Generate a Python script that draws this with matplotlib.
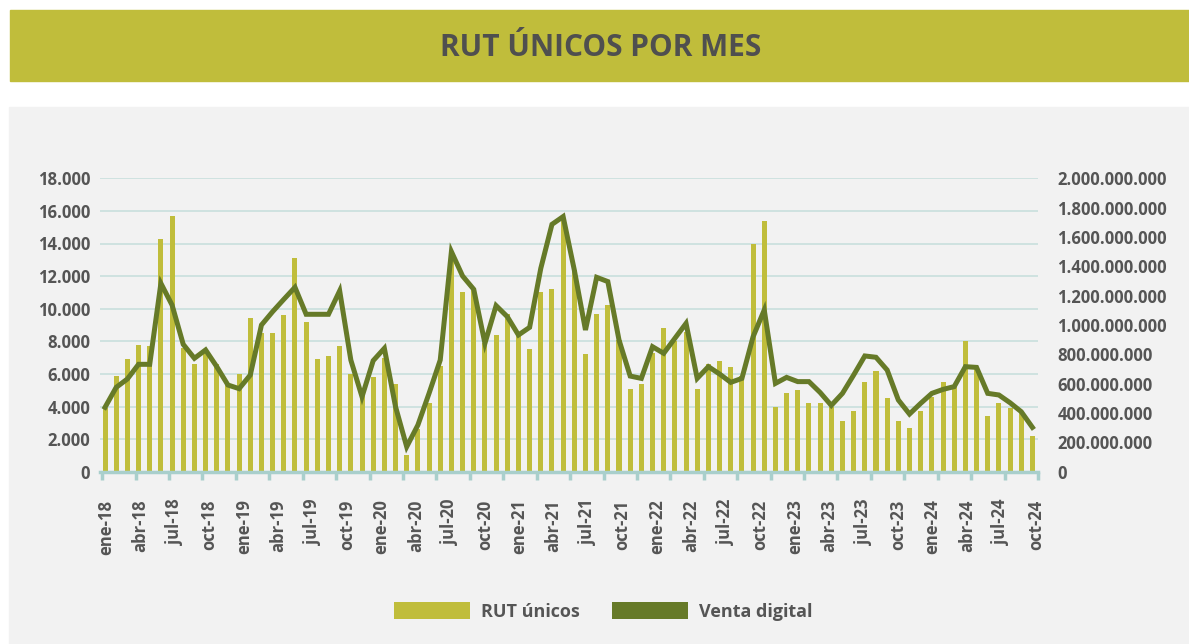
import numpy as np
import matplotlib.pyplot as plt
from matplotlib.patches import Rectangle, Patch

plt.rcParams["font.family"] = ["Open Sans", "DejaVu Sans"]
plt.rcParams["font.weight"] = "bold"

# monthly data, ene-18 onwards
rut_unicos = [
    3900, 5900, 6900, 7800, 7700, 14300, 15700, 7600, 6600, 7300, 6600, 5300,
    6000, 9400, 8500, 8500, 9600, 13100, 9200, 6900, 7100, 7700, 6000, 4700,
    5800, 7000, 5400, 1000, 2600, 4200, 6500, 12900, 11000, 11300, 7900, 8400,
    9700, 8300, 7500, 11000, 11200, 15400, 12400, 7200, 9700, 10200, 8100, 5100,
    5400, 7300, 8800, 8000, 8600, 5100, 6600, 6800, 6400, 5900, 14000, 15400,
    4000, 4800, 5000, 4200, 4200, 4000, 3100, 3700, 5500, 6200, 4500, 3100,
    2700, 3700, 4600, 5500, 5300, 8000, 6300, 3400, 4200, 3900, 3600, 2200,
]
# millions of pesos
venta_digital = [
    439, 575, 632, 732, 732, 1284, 1136, 868, 773, 830, 716, 591,
    566, 659, 1000, 1091, 1175, 1257, 1073, 1073, 1073, 1233, 761, 511,
    757, 841, 443, 170, 318, 534, 761, 1500, 1334, 1243, 875, 1132,
    1057, 932, 984, 1386, 1686, 1739, 1375, 966, 1325, 1296, 898, 652,
    636, 852, 807, 909, 1011, 636, 716, 666, 609, 636, 920, 1102,
    602, 643, 614, 614, 540, 452, 534, 659, 789, 780, 693, 489,
    393, 466, 534, 561, 580, 716, 711, 534, 523, 470, 409, 302,
]
tick_labels = [f"{m}-{y}" for y in range(18, 25) for m in ["ene", "abr", "jul", "oct"]]

BAR = "#C0BD3B"
LINE = "#667A28"
TEXT = "#555555"
GRID = "#C8DFDD"
AXIS = "#A9CFCC"
W, H = 1189, 644


def box(x0, y0, x1, y1):
    return [x0 / W, 1 - y1 / H, (x1 - x0) / W, (y1 - y0) / H]


def miles(v):
    return f"{int(v):,}".replace(",", ".")


fig = plt.figure(figsize=(W / 100, H / 100), dpi=100)
fig.patches.append(Rectangle((10 / W, 1 - 80.7 / H), 1 - 10 / W, 70.7 / H,
                             transform=fig.transFigure, color=BAR, zorder=-2))
fig.patches.append(Rectangle((9 / W, 0), 1 - 9 / W, 1 - 106.7 / H,
                             transform=fig.transFigure, color="#F2F2F2", zorder=-2))
fig.text(601 / W, 1 - 48.5 / H, "RUT ÚNICOS POR MES", ha="center", va="center",
         fontsize=21.5, color="#4F4F4F")

ax = fig.add_axes(box(100, 178.3, 1038, 471.7))
ax.set_facecolor("none")
x = np.arange(len(rut_unicos))
ax.bar(x, rut_unicos, width=0.45, color=BAR, zorder=2)
ax.set_xlim(-0.45, len(x) - 0.55)
ax.set_ylim(0, 18000)
yt = list(range(0, 18001, 2000))
ax.set_yticks(yt)
ax.set_yticklabels([miles(v) for v in yt])
ax.grid(axis="y", color=GRID, lw=1.2)
ax.set_axisbelow(True)
for s in ["top", "left", "right"]:
    ax.spines[s].set_visible(False)
ax.spines["bottom"].set_color(AXIS)
ax.spines["bottom"].set_linewidth(2.5)
ax.tick_params(axis="y", length=0, pad=7, labelsize=12, labelcolor=TEXT)
ax.set_xticks(np.linspace(0.1, len(x) - 0.7, len(tick_labels)))
ax.set_xticklabels(tick_labels, rotation=90)
ax.set_xticks(np.linspace(-0.25, len(x) - 0.5, len(tick_labels) + 1), minor=True)
ax.tick_params(axis="x", which="major", length=0, pad=20, labelsize=12, labelcolor=TEXT)
ax.tick_params(axis="x", which="minor", length=6, width=2.5, color=AXIS)

ax2 = ax.twinx()
ax2.plot(x, venta_digital, color=LINE, lw=3.6, solid_joinstyle="miter", zorder=3)
ax2.set_ylim(0, 2000)
rt = list(range(0, 2001, 200))
ax2.set_yticks(rt)
ax2.set_yticklabels([miles(v * 1_000_000) for v in rt])
for s in ax2.spines.values():
    s.set_visible(False)
ax2.tick_params(axis="y", length=0, pad=14, labelsize=12, labelcolor=TEXT)

fig.legend(handles=[Patch(facecolor=BAR, lw=0), Patch(facecolor=LINE, lw=0)],
           labels=["RUT únicos", "Venta digital"], loc="center",
           bbox_to_anchor=(603 / W, 1 - 611.5 / H), ncol=2, frameon=False,
           fontsize=13, handlelength=4.2, handleheight=1.1, handletextpad=0.6,
           columnspacing=1.8, labelcolor=TEXT)

fig.savefig("out.png", dpi=100, facecolor="white")
